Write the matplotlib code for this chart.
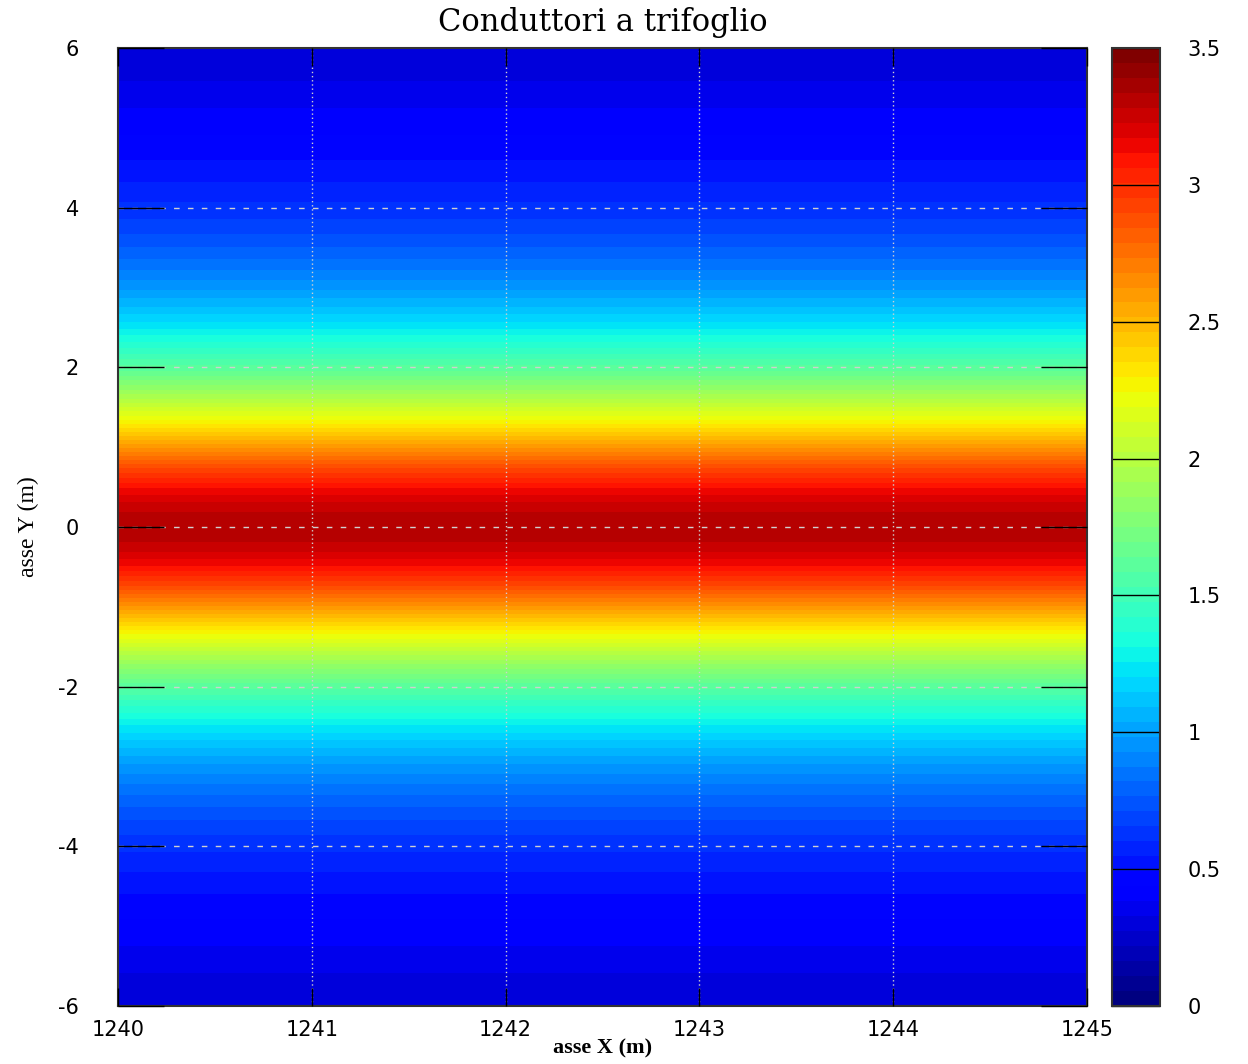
import matplotlib
matplotlib.use("Agg")
import matplotlib.pyplot as plt
import numpy as np

y_pos = [-6.0, -5.75, -5.5, -5.25, -5.0, -4.75, -4.5, -4.25, -4.0, -3.75, -3.5, -3.25,
         -3.0, -2.75, -2.5, -2.25, -2.0, -1.75, -1.5, -1.25, -1.0, -0.75, -0.5, -0.25,
         0.0, 0.25, 0.5, 0.75, 1.0, 1.25, 1.5, 1.75, 2.0, 2.25, 2.5, 2.75, 3.0, 3.25,
         3.5, 3.75, 4.0, 4.25, 4.5, 4.75, 5.0, 5.25, 5.5, 5.75, 6.0]
b_field = [0.28, 0.32, 0.36, 0.40, 0.44, 0.48, 0.53, 0.58, 0.64, 0.71, 0.79, 0.89,
           1.00, 1.13, 1.28, 1.45, 1.64, 1.86, 2.11, 2.37, 2.64, 2.90, 3.12, 3.27,
           3.32, 3.27, 3.12, 2.90, 2.64, 2.37, 2.11, 1.86, 1.64, 1.45, 1.28, 1.13,
           1.00, 0.89, 0.79, 0.71, 0.64, 0.58, 0.53, 0.48, 0.44, 0.40, 0.36, 0.32, 0.28]
x_ticks = [1240, 1241, 1242, 1243, 1244, 1245]
y_ticks = [-6, -4, -2, 0, 2, 4, 6]
cb_ticks = [0, 0.5, 1, 1.5, 2, 2.5, 3, 3.5]

W, H = 1248, 1064
fig = plt.figure(figsize=(W / 100, H / 100), dpi=100)
ax = fig.add_axes([118 / W, 1 - 1006 / H, 969 / W, 958 / H])
cax = fig.add_axes([1112 / W, 1 - 1006 / H, 48 / W, 958 / H])

cmap = plt.get_cmap('jet', 64)
# profile is the same along x, so two identical columns
grid = np.column_stack([b_field, b_field])
im = ax.imshow(grid, cmap=cmap, vmin=0, vmax=3.5, origin='lower', aspect='auto',
               extent=[1240, 1245, y_pos[0], y_pos[-1]],
               interpolation='bilinear', interpolation_stage='data', zorder=0)

ax.set_xlim(1240, 1245)
ax.set_ylim(-6, 6)
ax.set_xticks(x_ticks)
ax.set_yticks(y_ticks)
ax.set_xticklabels([str(v) for v in x_ticks])
ax.set_yticklabels([str(v) for v in y_ticks])
ax.set_axisbelow(False)

for v in x_ticks[1:-1]:
    ax.axvline(v, color='#d0d0d0', lw=1, ls=(0, (1, 2)), zorder=1)
for v in y_ticks[1:-1]:
    ax.axhline(v, color='#d0d0d0', lw=1, ls=(0, (4, 6)), zorder=1)

ax.tick_params(axis='x', direction='in', length=13, width=1, top=True, bottom=True,
               labelsize=15, pad=10, colors='black')
ax.tick_params(axis='y', direction='in', length=33, width=1, left=True, right=True,
               labelsize=15, pad=28, colors='black')
for s in ax.spines.values():
    s.set_color('#333333')
    s.set_linewidth(1.5)

ax.set_title('Conduttori a trifoglio', family='DejaVu Serif', fontsize=22, pad=12)
ax.set_xlabel('asse X (m)', family='Liberation Serif', fontsize=16, fontweight='bold',
              labelpad=-1)
ax.set_ylabel('asse Y (m)', family='Liberation Serif', fontsize=17, labelpad=14)

cb = fig.colorbar(im, cax=cax, ticks=cb_ticks)
cb.ax.set_yticklabels(['0', '0.5', '1', '1.5', '2', '2.5', '3', '3.5'])
cb.ax.tick_params(direction='in', length=35, width=1, labelsize=15, pad=20, colors='black',
                  left=False, right=True)
cb.outline.set_edgecolor('#333333')
cb.outline.set_linewidth(1.5)

fig.savefig('out.png', dpi=100)
